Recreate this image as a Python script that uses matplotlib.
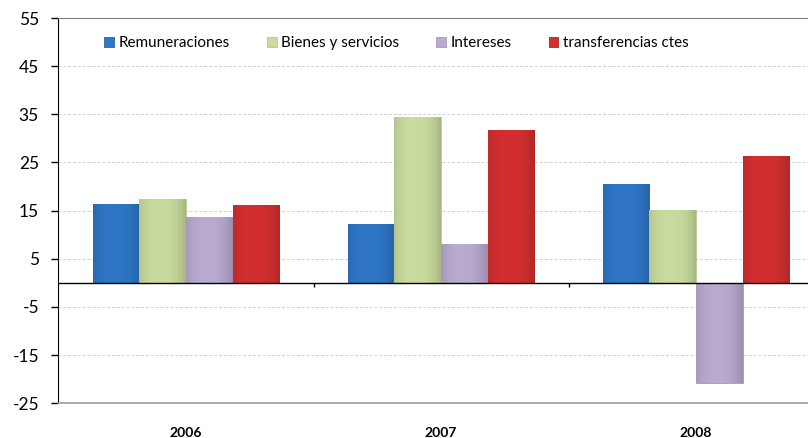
import matplotlib
matplotlib.use('Agg')
import matplotlib.pyplot as plt
from matplotlib.colors import to_rgb
import numpy as np

years = ['2006', '2007', '2008']
series = ['Remuneraciones', 'Bienes y servicios', 'Intereses', 'transferencias ctes']
remuneraciones = [16.3, 12.2, 20.6]
bienes = [17.5, 34.4, 15.1]
intereses = [13.7, 8.0, -20.8]
transferencias = [16.1, 31.7, 26.4]

colors = ['#2F76C6', '#C9DC9E', '#B9AAD0', '#D32F30']
edges = ['#2A64A8', '#B3C98C', '#A595BF', '#A82628']

plt.rcParams['font.family'] = ['Lato', 'DejaVu Sans']
plt.rcParams['axes.unicode_minus'] = False

fig = plt.figure(figsize=(8.08, 4.38), dpi=100)
ax = fig.add_axes([0.0724, 0.0792, 0.9468, 0.8797])

x = np.arange(len(years))
w = 0.183
values = [remuneraciones, bienes, intereses, transferencias]
# light bevel: bars get a little darker toward both sides
t = np.linspace(0, 1, 64)
shade = 1.0 - 0.13 * np.abs(2 * t - 0.9) ** 2.5
for i, vals in enumerate(values):
    bars = ax.bar(x + (i - 1.5) * w, vals, w, color=colors[i], edgecolor=edges[i],
                  linewidth=0.6, label=series[i], zorder=3)
    base = np.array(to_rgb(colors[i]))
    grad = np.clip(base[None, :] * shade[:, None], 0, 1)[None, :, :]
    for b in bars:
        x0, y0 = b.get_x(), b.get_y()
        x1, y1 = x0 + b.get_width(), y0 + b.get_height()
        im = ax.imshow(grad, extent=(x0, x1, min(y0, y1), max(y0, y1)),
                       aspect='auto', zorder=3.5, interpolation='bilinear')
        im.set_clip_path(b)

ax.set_xlim(-0.5, 2.5)
ax.set_ylim(-25, 55)
ax.set_yticks(np.arange(-25, 56, 10))
ax.yaxis.grid(True, linestyle=(0, (3, 2)), color='#d0d0d0', linewidth=0.7, zorder=0)

ax.axhline(0, color='black', linewidth=1.0, zorder=4)
ax.vlines(x[:-1] + 0.5, -0.9, 0, color='black', linewidth=1.0, zorder=4)

ax.set_xticks(x)
ax.set_xticklabels(years, fontweight='bold', fontsize=10)
ax.tick_params(axis='x', length=0, pad=17)
ax.tick_params(axis='y', length=5, width=1, labelsize=12.5, pad=9, direction='out')

ax.spines['left'].set_color('black')
ax.spines['bottom'].set_color('#9a9a9a')
ax.spines['bottom'].set_linewidth(1.2)
ax.spines['top'].set_color('#808080')
ax.spines['right'].set_visible(False)

ax.legend(loc='center', bbox_to_anchor=(0.442, 0.935), ncol=4, frameon=False,
          fontsize=11, handlelength=0.65, handleheight=0.65, handletextpad=0.3,
          columnspacing=2.4)

fig.savefig('out.png', dpi=100)
